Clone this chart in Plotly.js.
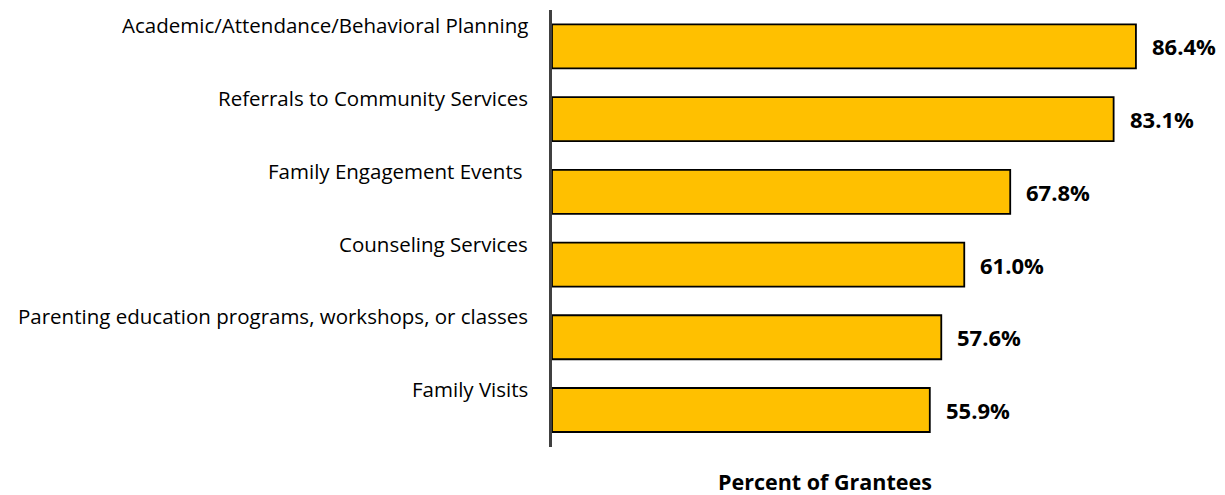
<!DOCTYPE html>
<html><head><meta charset="utf-8">
<script src="https://cdn.plot.ly/plotly-3.0.1.min.js"></script>
<style>html,body{margin:0;padding:0;background:#fff;}#chart{width:1225px;height:495px;}</style>
</head><body><div id="chart"></div>
<script>
var categories = [
  "Academic/Attendance/Behavioral Planning",
  "Referrals to Community Services",
  "Family Engagement Events ",
  "Counseling Services",
  "Parenting education programs, workshops, or classes",
  "Family Visits"
];
var values = [86.4, 83.1, 67.8, 61.0, 57.6, 55.9];
var valueLabels = ["86.4%", "83.1%", "67.8%", "61.0%", "57.6%", "55.9%"];
var axisTitle = "Percent of Grantees";

var fam = "'Open Sans', 'Noto Sans', sans-serif";
var labelFont = {family: fam, size: 20.5, color: "#000"};
var valueFont = {family: fam, size: 22, color: "#000"};

var annotations = [];
categories.forEach(function(c, i){
  annotations.push({x: 0, y: c, xref: "x", yref: "y", text: c, showarrow: false,
    xanchor: "right", yanchor: "middle", xshift: -22, yshift: 21, font: labelFont});
  annotations.push({x: values[i], y: c, xref: "x", yref: "y", text: "<b>" + valueLabels[i] + "</b>", showarrow: false,
    xanchor: "left", yanchor: "middle", xshift: 14, yshift: 0, font: valueFont});
});
annotations.push({x: 0.412, y: 0, xref: "paper", yref: "paper", text: "<b>" + axisTitle + "</b>", showarrow: false,
  xanchor: "center", yanchor: "middle", yshift: -34, font: {family: fam, size: 21.5, color: "#000"}});

var trace = {
  type: "bar", orientation: "h", x: values, y: categories,
  marker: {color: "#FFC000", line: {color: "#000", width: 1.8}},
  hoverinfo: "none"
};

var layout = {
  width: 1225, height: 495,
  margin: {l: 552, r: 10, t: 10, b: 48},
  paper_bgcolor: "#fff", plot_bgcolor: "#fff",
  bargap: 0.395,
  showlegend: false,
  xaxis: {range: [0, 98.1], showgrid: false, zeroline: false, showticklabels: false, showline: false, ticks: ""},
  yaxis: {autorange: "reversed", showticklabels: false, ticks: "", showgrid: false, zeroline: false,
    showline: true, linecolor: "#404040", linewidth: 3},
  annotations: annotations
};
Plotly.newPlot("chart", [trace], layout, {displayModeBar: false, staticPlot: true});
</script></body></html>
